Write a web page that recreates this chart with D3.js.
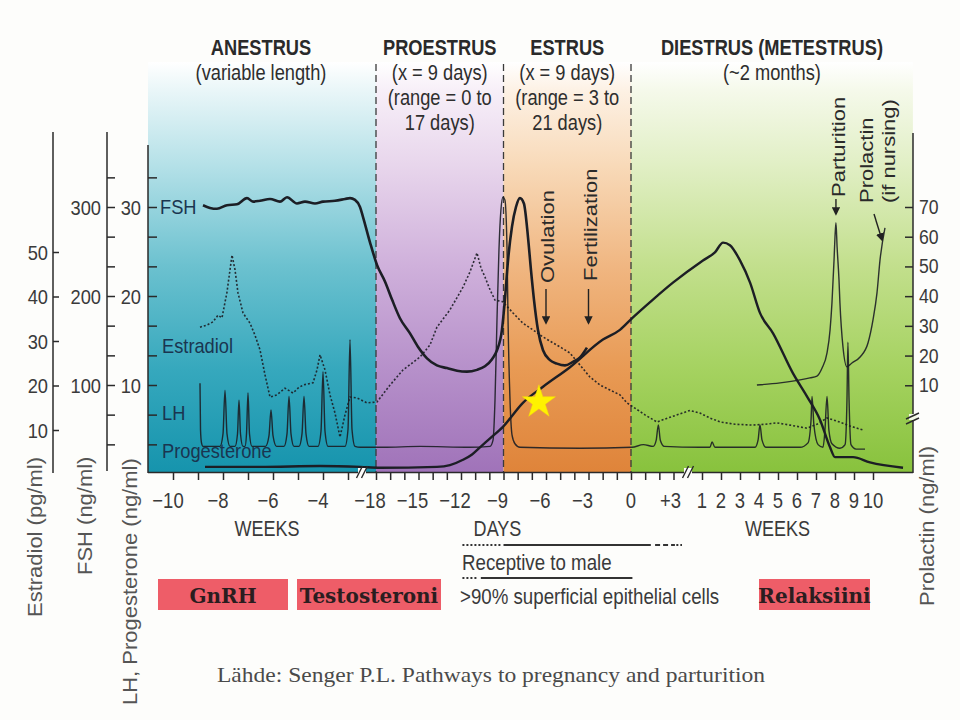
<!DOCTYPE html>
<html><head><meta charset="utf-8">
<script src="https://cdn.jsdelivr.net/npm/d3@7"></script>
<style>body{margin:0;background:#fdfdfb}svg{display:block}</style>
</head><body>
<svg id="c" width="960" height="720"></svg>
<script>
// ---------------- DATA ----------------
// x positions are [segment, time]: "a" = anestrus weeks, "d" = days, "p" = weeks after day +3
const phaseNames = ["ANESTRUS", "PROESTRUS", "ESTRUS", "DIESTRUS (METESTRUS)"];
const phaseNotes = [["(variable length)"], ["(x = 9 days)", "(range = 0 to", "17 days)"], ["(x = 9 days)", "(range = 3 to", "21 days)"], ["(~2 months)"]];
const phaseStart = [["a", -11], ["d", -18], ["d", -9], ["d", 0]];
const phaseEnd = [["d", -18], ["d", -9], ["d", 0], ["p", 12.1]];

const weekTicksA = [-10, -9, -8, -7, -6, -5, -4, -3];
const weekLabelsA = [-10, -8, -6, -4];
const dayTicks = [-18, -17, -16, -15, -14, -13, -12, -11, -10, -9, -8, -7, -6, -5, -4, -3, -2, -1, 0, 1, 2, 3];
const dayLabels = [-18, -15, -12, -9, -6, -3, 0, 3];
const weekTicksP = [1, 2, 3, 4, 5, 6, 7, 8, 9, 10];

const estradiolTicks = [10, 20, 30, 40, 50];
const fshTicks = [33.3, 66.7, 100, 133.3, 166.7, 200, 233.3, 266.7, 300, 333.3];
const fshLabels = [100, 200, 300];
const lhTicks = [3.33, 6.67, 10, 13.33, 16.67, 20, 23.33, 26.67, 30, 33.33];
const lhLabels = [10, 20, 30];
const prolactinTicks = [10, 20, 30, 40, 50, 60, 70];

const fshData = [
 ["a",-8.8,302],["a",-8.52,299],["a",-8.24,298],["a",-7.84,302],["a",-7.44,303],["a",-7.04,310],["a",-6.8,306],["a",-6.52,307],["a",-6.12,309],["a",-5.72,306],["a",-5.44,311],["a",-5.04,304],["a",-4.72,306],["a",-4.32,304],["a",-4.0,306],["a",-3.52,307],["a",-3.12,309],["a",-2.92,310],["a",-2.72,308],["a",-2.52,300],
 ["d",-18.92,289],["d",-18.42,260],["d",-17.93,235],["d",-17.36,216],["d",-16.87,196],["d",-16.31,175],["d",-15.6,158],["d",-15.04,143],["d",-14.4,130],["d",-13.7,122],["d",-12.99,119],["d",-12.28,116],["d",-11.58,115],["d",-10.87,117],["d",-10.31,121],["d",-9.81,129],["d",-9.46,139],["d",-9.11,162],["d",-8.9,196],["d",-8.68,240],["d",-8.4,278],["d",-8.12,300],["d",-7.84,310],["d",-7.56,304],["d",-7.27,266],["d",-7.06,229],["d",-6.85,196],["d",-6.57,162],["d",-6.21,139],["d",-5.72,128],["d",-5.23,124],["d",-4.66,122],["d",-4.1,126],["d",-3.6,131],["d",-3.11,142]
];
const progesteroneData = [
 ["a",-8.72,0.8],["a",-6.52,0.8],["a",-4.12,0.9],["a",-2.52,0.8],
 ["d",-17.72,0.7],["d",-13.7,0.8],["d",-12.78,1.0],["d",-11.86,1.6],["d",-11.22,2.2],["d",-10.66,3.0],["d",-9.95,4.0],["d",-9.04,5.3],["d",-7.63,8.0],["d",-6.21,9.8],["d",-4.31,12.0],["d",-1.98,15.1],["d",-0.78,16.2],["d",0.14,17.6],["d",1.55,19.6],["d",2.96,21.5],
 ["p",1.05,24.0],["p",1.68,24.9],["p",2.11,26.0],["p",2.47,25.7],["p",3.0,24.0],["p",3.53,21.5],["p",4.05,18.1],["p",4.74,15.8],["p",5.79,11.3],["p",6.53,8.7],["p",7.21,6.1],["p",7.74,3.0],["p",8.0,1.9],["p",8.95,1.9],["p",9.84,1.3],["p",11.58,0.7]
];
const lhData = [
 ["a",-8.92,10.2],["a",-8.9,5.0],["a",-8.86,3.5],["a",-8.8,3.1],
 ["a",-8.12,3.1],["a",-8.0,4.5],["a",-7.92,9.4],["a",-7.84,4.5],["a",-7.72,3.1],
 ["a",-7.52,3.1],["a",-7.42,4.5],["a",-7.36,8.3],["a",-7.3,4.5],["a",-7.2,3.1],
 ["a",-7.12,3.1],["a",-7.06,4.5],["a",-7.0,9.1],["a",-6.94,4.5],["a",-6.84,3.1],
 ["a",-6.3,3.1],["a",-6.16,4.3],["a",-6.08,7.2],["a",-6.0,4.3],["a",-5.86,3.1],
 ["a",-5.56,3.1],["a",-5.44,4.5],["a",-5.36,8.7],["a",-5.28,4.5],["a",-5.16,3.1],
 ["a",-4.96,3.1],["a",-4.84,4.5],["a",-4.76,8.7],["a",-4.68,4.5],["a",-4.56,3.1],
 ["a",-4.2,3.1],["a",-4.08,4.8],["a",-4.0,11.5],["a",-3.92,4.8],["a",-3.8,3.1],
 ["a",-3.12,3.1],["a",-3.0,5.0],["a",-2.92,15.1],["a",-2.84,5.0],["a",-2.72,3.1],["a",-2.5,3.0],
 ["d",-17.5,3.0],["d",-14.89,3.1],["d",-11.37,3.0],["d",-9.95,3.1],["d",-9.74,3.8],["d",-9.6,8.3],["d",-9.46,17.3],["d",-9.32,25.2],["d",-9.18,29.7],["d",-9.04,31.1],["d",-8.9,30.8],["d",-8.75,25.2],["d",-8.68,17.3],["d",-8.54,8.3],["d",-8.4,4.4],["d",-8.19,3.4],["d",-7.84,3.0],["d",-3.6,2.9],["d",0.07,3.0],["d",0.87,3.3],["d",1.57,3.1],["d",1.78,3.8],["d",1.93,5.5],["d",2.07,3.8],["d",2.35,3.1],
 ["p",0.89,3.0],["p",1.42,3.0],["p",1.53,3.6],["p",1.68,3.0],["p",3.79,3.0],["p",3.95,3.8],["p",4.05,5.5],["p",4.16,3.8],["p",4.37,3.0],["p",6.16,3.0],["p",6.58,3.5],["p",6.74,6.1],["p",6.79,8.7],["p",6.89,5.5],["p",7.11,3.3],["p",7.37,3.0],["p",7.47,4.9],["p",7.58,8.7],["p",7.68,4.9],["p",7.84,3.4],["p",8.26,2.9],["p",8.53,3.3],["p",8.63,8.3],["p",8.68,14.8],["p",8.74,8.3],["p",8.84,3.3],["p",9.11,2.8],["p",9.58,2.8]
];
const estradiolData = [
 ["a",-8.92,33.1],["a",-8.64,33.6],["a",-8.4,34.3],["a",-8.2,35.8],["a",-8.04,35.2],["a",-7.84,41.0],["a",-7.64,49.3],["a",-7.52,46.0],["a",-7.4,40.8],["a",-7.2,36.3],["a",-6.92,34.0],["a",-6.72,31.3],["a",-6.52,28.0],["a",-6.32,22.4],["a",-6.12,17.4],["a",-5.84,17.9],["a",-5.52,19.4],["a",-5.2,18.3],["a",-5.0,19.4],["a",-4.8,20.1],["a",-4.4,20.6],["a",-4.24,23.5],["a",-4.12,26.9],["a",-3.92,23.5],["a",-3.72,17.9],["a",-3.52,13.8],["a",-3.32,8.4],["a",-3.12,13.4],["a",-2.92,17.4],["a",-2.64,17.2],
 ["d",-18.64,16.1],["d",-17.93,16.3],["d",-17.01,20.1],["d",-16.09,23.5],["d",-14.89,26.4],["d",-14.19,29.1],["d",-13.7,33.1],["d",-12.78,37.0],["d",-11.86,42.1],["d",-11.37,45.5],["d",-10.87,49.8],["d",-10.59,46.4],["d",-10.31,44.4],["d",-9.95,41.5],["d",-9.6,39.2],["d",-9.04,38.8],["d",-8.33,36.3],["d",-7.63,34.0],["d",-6.92,32.5],["d",-6.21,30.9],["d",-5.51,29.6],["d",-4.87,28.4],["d",-4.31,27.3],["d",-3.6,24.6],["d",-2.9,21.9],["d",-2.19,20.1],["d",-1.49,19.0],["d",-0.78,17.9],["d",-0.29,16.1],["d",0.14,15.2],["d",0.99,13.4],["d",1.83,11.8],["d",2.61,12.7],
 ["p",0.37,14.4],["p",0.89,13.8],["p",1.42,12.7],["p",1.95,11.8],["p",2.74,11.3],["p",3.68,11.1],["p",4.32,11.3],["p",4.95,11.6],["p",5.63,11.1],["p",6.53,10.4],["p",7.05,11.3],["p",7.58,12.7],["p",8.11,12.0],["p",8.79,10.9],["p",9.47,10.0]
];
const prolactinData = [
 ["p",3.89,10.1],["p",5.11,10.8],["p",6.16,11.8],["p",6.68,12.5],["p",7.05,13.1],["p",7.32,15.8],["p",7.58,20.9],["p",7.74,28.6],["p",7.84,37.7],["p",7.95,52.2],["p",8.0,60.0],["p",8.05,64.7],["p",8.11,56.6],["p",8.21,45.5],["p",8.26,37.7],["p",8.42,22.9],["p",8.63,16.2],["p",8.89,17.5],["p",9.32,19.5],["p",9.74,24.3],["p",10.0,32.0],["p",10.21,41.1],["p",10.37,52.2],["p",10.63,63.0]
];
const receptiveSpans = [["dot", -11.9, -9.2], ["solid", -9.0, 1.4], ["dash", 1.7, 3.1], ["dot", 3.2, 3.6]];
const epithelialSpans = [["dot", -11.9, -10.8], ["solid", -10.6, 0.1]];
const hormoneBoxes = [["GnRH", 158, 288], ["Testosteroni", 297, 441], ["Relaksiini", 759, 870]];
const starPoint = ["d", -6.5, 8.3];

// ---------------- SCALES ----------------
const xA = d3.scaleLinear().domain([-11, -3]).range([148, 348]);
const xD = d3.scaleLinear().domain([-18, 0]).range([376, 631]);
const xP = d3.scaleLinear().domain([1, 10]).range([702, 873]);
const xs = {a: xA, d: xD, p: xP};
const X = (s, t) => xs[s](t);
const yLH = d3.scaleLinear().domain([0, 30]).range([474, 207]);
const yFSH = d3.scaleLinear().domain([0, 300]).range([474, 207]);
const yE = d3.scaleLinear().domain([0, 50]).range([474.5, 252]);
const yPRL = d3.scaleLinear().domain([0, 70]).range([415, 207]);

const SANS = "'Liberation Sans', Arial, Helvetica, sans-serif";
const SERIF = "'DejaVu Serif', serif";
const INK = "#1c1e25";
const svg = d3.select("#c");

function label(g, x, y, str, o = {}) {
  const size = o.size || 22, sx = o.sx || 0.84, rot = o.rot || 0;
  const tr = rot ? `translate(${x},${y}) rotate(${rot}) scale(1,${sx})` : `translate(${x},${y}) scale(${sx},1)`;
  return g.append("text").attr("transform", tr)
    .attr("font-family", o.family || SANS).attr("font-size", size)
    .attr("font-weight", o.weight || "normal").attr("fill", o.fill || "#333")
    .attr("text-anchor", o.anchor || "start").text(str);
}

// ---------------- BACKGROUND PHASES ----------------
const defs = svg.append("defs");
const gradStops = [
  [[0,"#ffffff"],[0.07,"#e9f6f8"],[0.25,"#b5e1e8"],[0.5,"#6bc1cf"],[0.75,"#36a8bd"],[1,"#1694ad"]],
  [[0,"#ffffff"],[0.07,"#f7eff8"],[0.25,"#e8d6ec"],[0.5,"#cfb0db"],[0.75,"#b690ca"],[1,"#a073b9"]],
  [[0,"#ffffff"],[0.07,"#fdf1e4"],[0.25,"#f8dab9"],[0.5,"#f0b681"],[0.75,"#e89a54"],[1,"#df843a"]],
  [[0,"#ffffff"],[0.07,"#f5f9ea"],[0.25,"#e1efc5"],[0.5,"#c2df8c"],[0.75,"#a5d260"],[1,"#88c23d"]]
];
gradStops.forEach((st, i) => {
  const lg = defs.append("linearGradient").attr("id", "g" + i).attr("gradientUnits", "userSpaceOnUse")
    .attr("x1", 0).attr("x2", 0).attr("y1", 62).attr("y2", 472);
  st.forEach(s => lg.append("stop").attr("offset", s[0]).attr("stop-color", s[1]));
});
phaseNames.forEach((n, i) => {
  const x0 = X(...phaseStart[i]), x1 = X(...phaseEnd[i]);
  svg.append("rect").attr("x", x0).attr("y", 62).attr("width", x1 - x0).attr("height", 410).attr("fill", `url(#g${i})`);
});

// dashed phase boundaries
[phaseStart[1], phaseStart[2], phaseStart[3]].forEach(p => {
  const x = X(...p);
  svg.append("line").attr("x1", x).attr("x2", x).attr("y1", 64).attr("y2", 472)
    .attr("stroke", "#3a3a3a").attr("stroke-width", 1.3).attr("stroke-dasharray", "7,4");
});

// phase headers
phaseNames.forEach((n, i) => {
  const cx = (X(...phaseStart[i]) + X(...phaseEnd[i])) / 2 - (i === 0 ? 1 : 0);
  label(svg, cx, 55, n, {weight: "bold", anchor: "middle", fill: "#2a2a2a", sx: 0.83});
  phaseNotes[i].forEach((t, j) => label(svg, cx, 80 + j * 25, t, {anchor: "middle", fill: "#2e2e2e", sx: 0.83}));
});

// ---------------- CURVES ----------------
const pt = (ys) => d3.line().x(d => X(d[0], d[1])).y(d => ys(d[2]));
svg.append("path").datum(estradiolData).attr("d", pt(yE)).attr("fill", "none")
  .attr("stroke", INK).attr("stroke-width", 1.6).attr("stroke-dasharray", "2,2").attr("opacity", 0.9);
svg.append("path").datum(lhData).attr("d", pt(yLH).curve(d3.curveMonotoneX)).attr("fill", "none")
  .attr("stroke", INK).attr("stroke-width", 1.4).attr("opacity", 0.9);
svg.append("path").datum(prolactinData).attr("d", pt(yPRL).curve(d3.curveMonotoneX)).attr("fill", "none")
  .attr("stroke", INK).attr("stroke-width", 1.4).attr("opacity", 0.9);
svg.append("path").datum(progesteroneData).attr("d", pt(yLH).curve(d3.curveMonotoneX)).attr("fill", "none")
  .attr("stroke", INK).attr("stroke-width", 2.4);
svg.append("path").datum(fshData).attr("d", pt(yFSH).curve(d3.curveMonotoneX)).attr("fill", "none")
  .attr("stroke", INK).attr("stroke-width", 2.6);

// curve labels
const CL = "#1a3550";
label(svg, 160, 214, "FSH", {size: 21, sx: 0.87, fill: CL});
label(svg, 162, 353, "Estradiol", {size: 21, sx: 0.87, fill: CL});
label(svg, 162, 420, "LH", {size: 21, sx: 0.87, fill: CL});
label(svg, 162, 458, "Progesterone", {size: 21, sx: 0.87, fill: CL});

// ---------------- AXES ----------------
const AX = "#2a2a2a";
const vline = (x, y0, y1) => svg.append("line").attr("x1", x).attr("x2", x).attr("y1", y0).attr("y2", y1).attr("stroke", AX).attr("stroke-width", 1.5);
// estradiol axis
vline(53, 132, 473);
svg.append("g").attr("transform", "translate(53,0)").call(d3.axisRight(yE).tickValues(estradiolTicks).tickSize(6).tickFormat(""))
  .call(g => g.select(".domain").remove()).selectAll("line").attr("stroke", AX).attr("stroke-width", 1.5);
estradiolTicks.forEach(v => label(svg, 48, yE(v) + 7.5, String(v), {size: 21, sx: 0.87, anchor: "end", fill: "#3a3a3a"}));
// FSH axis
vline(107, 132, 471);
svg.append("g").attr("transform", "translate(107,0)").call(d3.axisRight(yFSH).tickValues(fshTicks).tickSize(8).tickFormat(""))
  .call(g => g.select(".domain").remove()).selectAll("line").attr("stroke", AX).attr("stroke-width", 1.5);
fshLabels.forEach(v => label(svg, 101, yFSH(v) + 7.5, String(v), {size: 21, sx: 0.87, anchor: "end", fill: "#3a3a3a"}));
// LH axis
vline(148, 145, 473);
svg.append("g").attr("transform", "translate(148,0)").call(d3.axisRight(yLH).tickValues(lhTicks).tickSize(9).tickFormat(""))
  .call(g => g.select(".domain").remove()).selectAll("line").attr("stroke", AX).attr("stroke-width", 1.5);
lhLabels.forEach(v => label(svg, 141, yLH(v) + 7.5, String(v), {size: 21, sx: 0.87, anchor: "end", fill: "#3a3a3a"}));
// Prolactin axis
vline(913, 133, 473);
svg.append("g").attr("transform", "translate(913,0)").call(d3.axisLeft(yPRL).tickValues(prolactinTicks).tickSize(8).tickFormat(""))
  .call(g => g.select(".domain").remove()).selectAll("line").attr("stroke", AX).attr("stroke-width", 1.5);
prolactinTicks.forEach(v => label(svg, 919, yPRL(v) + 7, String(v), {size: 21, sx: 0.84, fill: "#3a3a3a"}));
// right axis break
svg.append("rect").attr("x", 909).attr("y", 414).attr("width", 8).attr("height", 6).attr("fill", "#f3f8e6");
[[416], [421]].forEach(d => svg.append("line").attr("x1", 906).attr("x2", 919).attr("y1", d[0] + 3).attr("y2", d[0] - 3).attr("stroke", AX).attr("stroke-width", 1.4));

// x axis
svg.append("line").attr("x1", 148).attr("x2", 913).attr("y1", 472.5).attr("y2", 472.5).attr("stroke", AX).attr("stroke-width", 1.6);
const tickG = (scale, vals) => svg.append("g").attr("transform", "translate(0,472)")
  .call(d3.axisBottom(scale).tickValues(vals).tickSize(8).tickFormat(""))
  .call(g => g.select(".domain").remove()).selectAll("line").attr("stroke", AX).attr("stroke-width", 1.5);
tickG(xA, weekTicksA); tickG(xD, dayTicks); tickG(xP, weekTicksP);
const TL = "#3a3a3a";
weekLabelsA.forEach(v => label(svg, xA(v) - 5, 508, d3.format("")(v), {anchor: "middle", fill: TL, sx: 0.84}));
dayLabels.forEach(v => label(svg, xD(v) - (v < 0 ? 6 : (v > 0 ? 3 : 0)), 508, v > 0 ? "+" + v : d3.format("")(v), {anchor: "middle", fill: TL, sx: 0.84}));
weekTicksP.forEach(v => label(svg, xP(v), 508, String(v), {anchor: "middle", fill: TL, sx: 0.84}));
// x breaks
[362, 688].forEach(x => {
  svg.append("rect").attr("x", x - 4).attr("y", 468).attr("width", 8).attr("height", 8).attr("fill", "#fdfdfb");
  [-2.5, 2.5].forEach(o => svg.append("line").attr("x1", x + o - 3).attr("x2", x + o + 3).attr("y1", 478).attr("y2", 466).attr("stroke", AX).attr("stroke-width", 1.4));
});
label(svg, (xA(-10) + xA(-4)) / 2 + 19, 536, "WEEKS", {anchor: "middle", fill: TL, sx: 0.82});
label(svg, xD(-9) - 6, 536, "DAYS", {anchor: "middle", fill: TL, sx: 0.82});
label(svg, (xP(1) + xP(10)) / 2 - 10, 536, "WEEKS", {anchor: "middle", fill: TL, sx: 0.82});

// axis titles
const TT = "#555555";
label(svg, 42, 617, "Estradiol (pg/ml)", {rot: -90, sx: 0.9, fill: TT});
label(svg, 92, 575, "FSH (ng/ml)", {rot: -90, sx: 0.9, fill: TT});
label(svg, 137, 705, "LH, Progesterone (ng/ml)", {rot: -90, sx: 0.9, fill: TT});
label(svg, 934, 606, "Prolactin (ng/ml)", {rot: -90, sx: 0.9, fill: TT});

// ---------------- ANNOTATIONS ----------------
defs.append("marker").attr("id", "ah").attr("viewBox", "0 0 10 10").attr("refX", 8).attr("refY", 5)
  .attr("markerWidth", 6).attr("markerHeight", 6).attr("orient", "auto")
  .append("path").attr("d", "M0,0L10,5L0,10z").attr("fill", "#222");
const arrow = (x1, y1, x2, y2) => svg.append("line").attr("x1", x1).attr("y1", y1).attr("x2", x2).attr("y2", y2)
  .attr("stroke", "#222").attr("stroke-width", 1.4).attr("marker-end", "url(#ah)");
const ovX = xD(-6), feX = xD(-3);
label(svg, ovX + 8, 283, "Ovulation", {rot: -90, sx: 0.86, fill: "#2a2a2a"});
arrow(ovX, 289, ovX, 323);
label(svg, feX + 8, 281, "Fertilization", {rot: -90, sx: 0.86, fill: "#2a2a2a"});
arrow(feX, 289, feX, 323);
const paX = xP(8.05);
label(svg, paX + 9, 197, "Parturition", {rot: -90, sx: 0.86, fill: "#2a2a2a"});
arrow(paX, 199, paX, 214);
label(svg, 873, 203, "Prolactin", {rot: -90, sx: 0.86, fill: "#2a2a2a"});
label(svg, 895, 203, "(if nursing)", {rot: -90, sx: 0.86, fill: "#2a2a2a"});
arrow(874, 214, 882, 240);

// star
svg.append("path").attr("d", d3.symbol(d3.symbolStar).size(340)())
  .attr("transform", `translate(${X(starPoint[0], starPoint[1])},${yLH(starPoint[2]) + 2})`)
  .attr("fill", "#fff200").attr("stroke", "#f5e000").attr("stroke-width", 0.5);

// receptive / epithelial lines
const spanLine = (spans, y) => spans.forEach(s => svg.append("line")
  .attr("x1", xD(s[1])).attr("x2", xD(s[2])).attr("y1", y).attr("y2", y)
  .attr("stroke", "#333").attr("stroke-width", s[0] === "solid" ? 2 : 1.8)
  .attr("stroke-dasharray", s[0] === "dot" ? "2,2" : (s[0] === "dash" ? "5,3" : null)));
spanLine(receptiveSpans, 545);
label(svg, 462, 570, "Receptive to male", {fill: "#3a3a3a", sx: 0.85});
spanLine(epithelialSpans, 578);
label(svg, 460, 604, ">90% superficial epithelial cells", {fill: "#3a3a3a", sx: 0.85});

// hormone boxes
hormoneBoxes.forEach(b => {
  svg.append("rect").attr("x", b[1]).attr("y", 579).attr("width", b[2] - b[1]).attr("height", 31).attr("fill", "#ee5d68");
  svg.append("text").attr("x", (b[1] + b[2]) / 2).attr("y", 603).attr("text-anchor", "middle")
    .attr("font-family", SERIF).attr("font-weight", "bold").attr("font-size", 20).attr("fill", "#2b1d1f").text(b[0]);
});

// source
svg.append("text").attr("x", 217).attr("y", 682).attr("font-family", "'Liberation Serif', serif").attr("font-size", 21)
  .attr("fill", "#4a4a4a").attr("textLength", 548).attr("lengthAdjust", "spacingAndGlyphs")
  .text("Lähde: Senger P.L. Pathways to pregnancy and parturition");
</script>
</body></html>
